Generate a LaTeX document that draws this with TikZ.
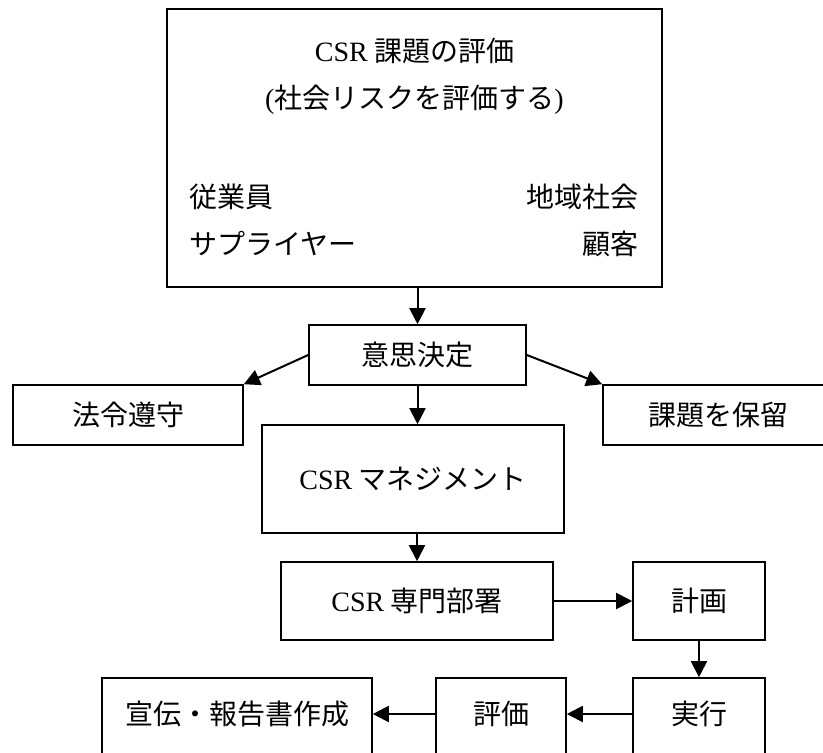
\documentclass[tikz,border=0pt]{standalone}
\usepackage{fontspec}
\setmainfont{Liberation Serif}
\newfontfamily\cjk{Noto Sans CJK JP}
\usetikzlibrary{arrows.meta}
\begin{document}
\begin{tikzpicture}[x=1pt,y=-1pt,
  box/.style={draw, line width=1.6pt, inner sep=0pt, font=\fontsize{28}{34}\selectfont\cjk},
  tall/.style={box, text height=20pt, text depth=20pt},
  lbl/.style={inner sep=0pt, font=\fontsize{28}{34}\selectfont\cjk},
  arr/.style={line width=2pt, -{Triangle[length=16pt,width=16pt]}}]
\useasboundingbox (0,0) rectangle (823,753);
\fill[white] (0,0) rectangle (823,753);
\clip (0,0) rectangle (823,753);

% top evaluation box
\node[box, minimum width=495pt, minimum height=278pt] (eval) at (414.5,148) {};
\node[lbl] (title) at (414.5,51) {{\rmfamily CSR} 課題の評価};
\node[lbl] (sub) at (414.5,100) {{\rmfamily(}社会リスクを評価する{\rmfamily)}};
\node[lbl, anchor=west] (emp) at (189,197) {従業員};
\node[lbl, anchor=west] (sup) at (189,244) {サプライヤー};
\node[lbl, anchor=east] (comm) at (639,197) {地域社会};
\node[lbl, anchor=east] (cust) at (639,244) {顧客};

% decision row
\node[box, minimum width=217pt, minimum height=60pt] (dec) at (417.5,355) {意思決定};
\node[box, minimum width=230pt, minimum height=60pt] (law) at (128,415) {法令遵守};
\node[box, minimum width=230pt, minimum height=60pt] (hold) at (718,415) {課題を保留};

% management
\node[box, minimum width=302pt, minimum height=108pt] (mgmt) at (413,479) {{\rmfamily CSR} マネジメント};
\node[box, minimum width=272pt, minimum height=78pt] (dept) at (417,601) {{\rmfamily CSR} 専門部署};
\node[box, minimum width=132pt, minimum height=78pt] (plan) at (699,601) {計画};

% bottom row (cut off by the page edge)
\node[tall, minimum width=132pt, minimum height=92pt] (exec) at (699,724) {実行};
\node[tall, minimum width=130pt, minimum height=92pt] (rev) at (501,724) {評価};
\node[tall, minimum width=270pt, minimum height=92pt] (pub) at (237,724) {宣伝・報告書作成};

% connectors
\draw[arr] (dec.north |- eval.south) -- (dec.north);
\draw[arr] (dec.west) -- (law.north east);
\draw[arr] (dec.east) -- (hold.north west);
\draw[arr] (dec.south) -- (dec.south |- mgmt.north);
\draw[arr] (dept.north |- mgmt.south) -- (dept.north);
\draw[arr] (dept.east) -- (plan.west);
\draw[arr] (plan.south) -- (exec.north);
\draw[arr] ([yshift=10pt]exec.west) -- ([yshift=10pt]rev.east);
\draw[arr] ([yshift=10pt]rev.west) -- ([yshift=10pt]pub.east);
\end{tikzpicture}
\end{document}
